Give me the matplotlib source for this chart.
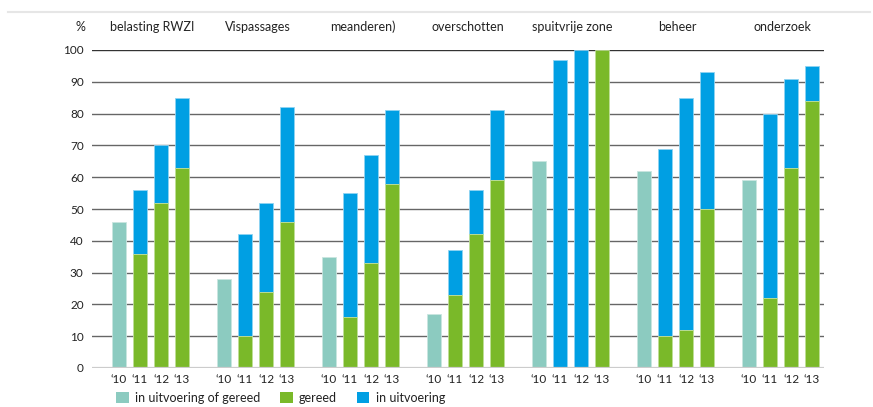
import matplotlib
matplotlib.use('agg')
import matplotlib.pyplot as plt
from matplotlib.patches import Patch
from matplotlib.lines import Line2D

plt.rcParams['font.family'] = ['Lato', 'DejaVu Sans']

groups = ['belasting RWZI', 'Vispassages', 'meanderen)', 'overschotten',
          'spuitvrije zone', 'beheer', 'onderzoek']
years = ['\u201810', '\u201811', '\u201812', '\u201813']

# 2010: only "in uitvoering of gereed"
first_year = [46, 28, 35, 17, 65, 62, 59]
# 2011-2013: gereed and totaal (gereed + in uitvoering)
gereed = [[36, 52, 63], [10, 24, 46], [16, 33, 58], [23, 42, 59],
          [0, 0, 100], [10, 12, 50], [22, 63, 84]]
totaal = [[56, 70, 85], [42, 52, 82], [55, 67, 81], [37, 56, 81],
          [97, 100, 100], [69, 85, 93], [80, 91, 95]]

teal = '#8ccbc0'
green = '#7ab929'
blue = '#009fe3'

fig = plt.figure(figsize=(8.73, 4.07), dpi=100)
ax = fig.add_axes([92 / 873, 1 - 368 / 407, (824 - 92) / 873, (368 - 50) / 407])

w = 0.62
for i in range(len(groups)):
    base = i * 5
    ax.bar(base, first_year[i], w, color=teal, edgecolor='#c9e6e0', linewidth=0.6, zorder=3)
    for j in range(3):
        x = base + j + 1
        g = gereed[i][j]
        t = totaal[i][j]
        if t > g:
            ax.bar(x, t - g, w, bottom=g, color=blue, edgecolor='#8fd3f2', linewidth=0.6, zorder=3)
        if g > 0:
            ax.bar(x, g, w, color=green, edgecolor='#bfdf97', linewidth=0.6, zorder=3)
    ax.text(base + 1.6, 1.055, groups[i], transform=ax.get_xaxis_transform(),
            ha='center', va='bottom', fontsize=9, color='#222222')

ax.set_xlim(-27 / 21, (824 - 119) / 21)
ax.set_ylim(0, 100)
ax.set_yticks(range(0, 101, 10))
for v in range(10, 100, 10):
    ax.axhline(v, color='#666666', lw=1.0, zorder=1)
ax.axhline(100, color='#333333', lw=1.0, zorder=1)
ax.axhline(0, color='#cccccc', lw=1.6, zorder=4)

xt = [i * 5 + j for i in range(len(groups)) for j in range(4)]
ax.set_xticks(xt)
ax.set_xticklabels(years * len(groups))
ax.tick_params(length=0, labelsize=8.5, colors='#222222')
ax.tick_params(axis='x', pad=4)
ax.tick_params(axis='y', pad=6)
for s in ax.spines.values():
    s.set_visible(False)

ax.text(-0.009, 1.055, '%', transform=ax.transAxes, ha='right', va='bottom',
        fontsize=9, color='#222222')

fig.add_artist(Line2D([8 / 873, 870 / 873], [1 - 12 / 407, 1 - 12 / 407],
                      color='#e6e6e6', lw=1.5))

handles = [Patch(facecolor=teal), Patch(facecolor=green), Patch(facecolor=blue)]
labels = ['in uitvoering of gereed', 'gereed', 'in uitvoering']
fig.legend(handles, labels, loc='center left', bbox_to_anchor=(111 / 873, 1 - 398 / 407),
           ncol=3, frameon=False, fontsize=9, handlelength=1.0, handleheight=1.0,
           handletextpad=0.5, columnspacing=1.6, borderaxespad=0, labelcolor='#222222')

fig.savefig('out.png', dpi=100, facecolor='white')
